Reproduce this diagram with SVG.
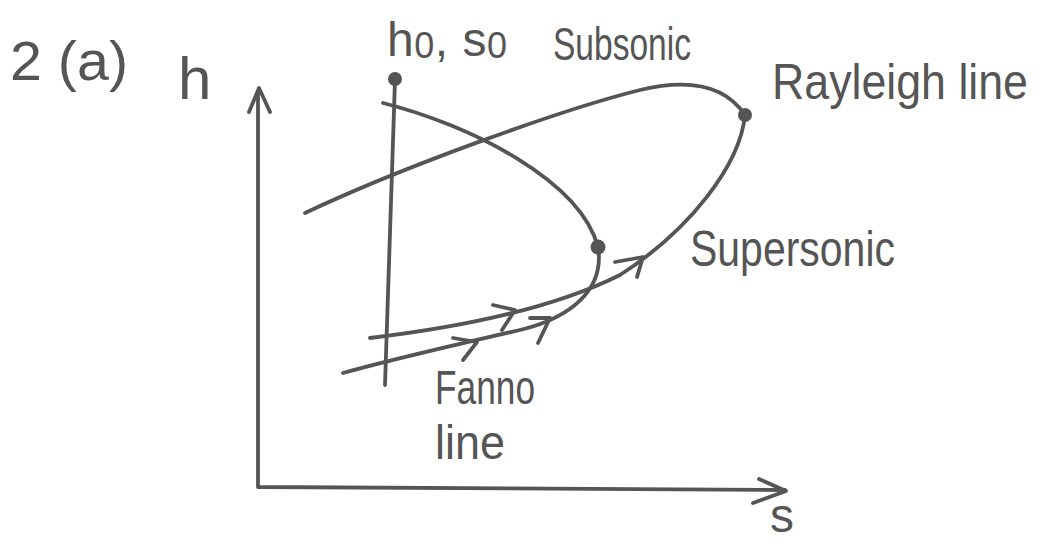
<svg xmlns="http://www.w3.org/2000/svg" width="1042" height="544" viewBox="0 0 1042 544">
<style>
.ln{fill:none;stroke:#555;stroke-width:3.8;stroke-linecap:round;stroke-linejoin:round}
.dot{fill:#555}
.t{font-family:"Liberation Sans",Arial,sans-serif;fill:#555}
</style>
<rect width="1042" height="544" fill="#fff"/>
<g id="axes">
<path class="ln" d="M258,92 L258,487 L785,490"/>
<path class="ln" d="M249,112 L259,88 L270,112"/>
<path class="ln" d="M759,479 L786,491 L753,503"/>
</g>
<g id="connectors">
<path id="s0-line" class="ln" d="M395,80 L385,385"/>
<path id="fanno" class="ln" d="M383,103 C470,125 580,180 598,247 C605,290 570,318 520,330 C450,346 390,360 343,373"/>
<path id="rayleigh" class="ln" d="M305,213 C400,168 560,110 640,90 C690,78 725,85 745,115 C740,165 690,230 620,275 C560,305 480,325 370,338"/>
<path class="ln" d="M493,305 L515,310 L502,330"/>
<path class="ln" d="M453,338 L477,342 L463,360"/>
<path class="ln" d="M530,318 L550,318 L538,343"/>
<path class="ln" d="M615,262 L643,257 L637,277"/>
</g>
<g id="points">
<circle class="dot" cx="395" cy="79" r="7"/>
<circle class="dot" cx="598" cy="247" r="7.5"/>
<circle class="dot" cx="745" cy="115" r="7"/>
</g>
<g id="labels">
<text class="t" x="10" y="80" font-size="56" textLength="118" lengthAdjust="spacingAndGlyphs">2 (a)</text>
<text class="t" x="178" y="99" font-size="60">h</text>
<text class="t" x="387" y="56" font-size="48" textLength="120" lengthAdjust="spacing">h<tspan font-size="36" dy="2">0</tspan><tspan dy="-2">, s</tspan><tspan font-size="36" dy="2">0</tspan></text>
<text class="t" x="553" y="60" font-size="46" textLength="138" lengthAdjust="spacingAndGlyphs">Subsonic</text>
<text class="t" x="772" y="99" font-size="44" transform="translate(772,99) scale(1,1.15) translate(-772,-99)" textLength="256" lengthAdjust="spacingAndGlyphs">Rayleigh line</text>
<text class="t" x="690" y="266" font-size="50" textLength="205" lengthAdjust="spacingAndGlyphs">Supersonic</text>
<text class="t" x="435" y="404" font-size="48" textLength="100" lengthAdjust="spacingAndGlyphs">Fanno</text>
<text class="t" x="435" y="459" font-size="48" textLength="70" lengthAdjust="spacingAndGlyphs">line</text>
<text class="t" x="770" y="532" font-size="48">s</text>
</g>
</svg>
